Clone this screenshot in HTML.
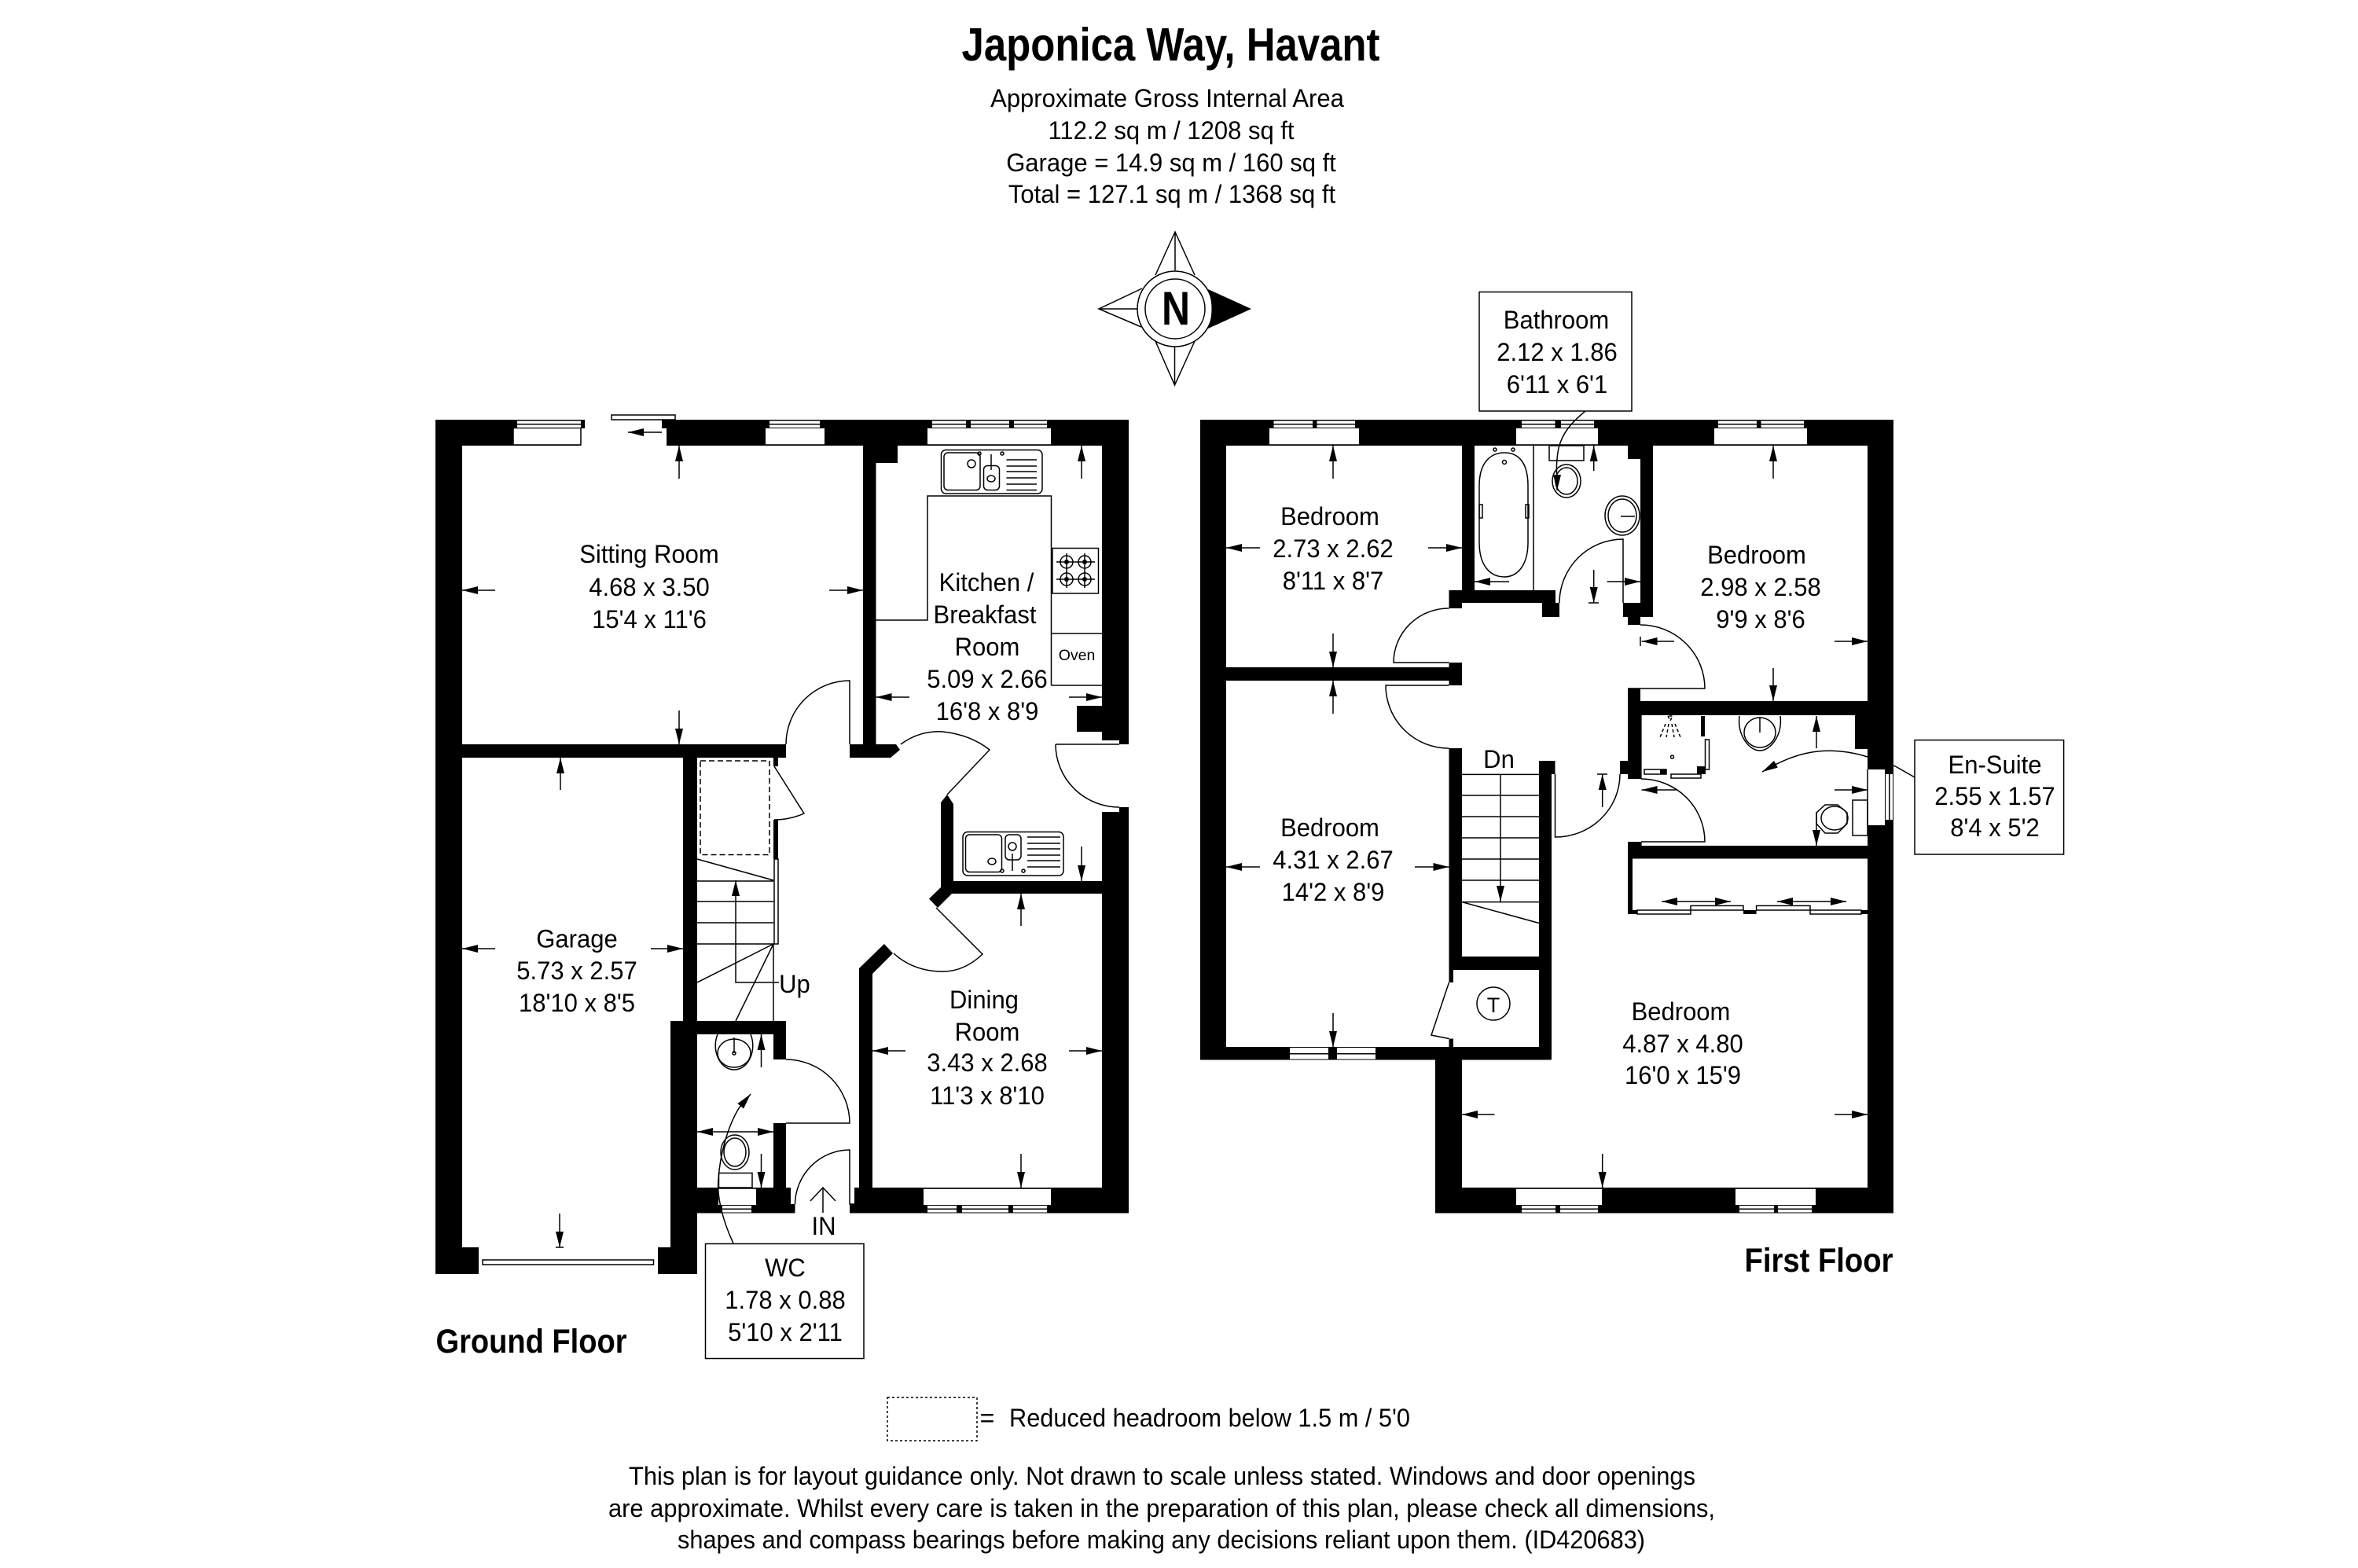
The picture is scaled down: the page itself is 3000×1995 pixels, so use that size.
<!DOCTYPE html>
<html><head><meta charset="utf-8"><title>Japonica Way, Havant</title>
<style>
html,body{margin:0;padding:0;background:#fff}
svg{display:block}
text{font-family:"Liberation Sans",Arial,sans-serif;fill:#000;text-anchor:middle}
.t{font-size:32px;transform-box:fill-box;transform-origin:50% 50%;transform:scaleX(.969)}
.f{font-size:32px}
.b{font-weight:bold}
.l{fill:none;stroke:#000;stroke-width:1.5}
.w{fill:#fff;stroke:none}
.r{fill:#fff;stroke:#000;stroke-width:1.5}
.a{fill:none;stroke:#000;stroke-width:1.5;marker-end:url(#h)}
.d{fill:none;stroke:#000;stroke-width:1.5;marker-end:url(#h);marker-start:url(#s)}
</style></head><body>
<svg xmlns="http://www.w3.org/2000/svg" width="3000" height="1995" viewBox="0 0 3000 1995">
<defs>
<marker id="h" markerUnits="userSpaceOnUse" markerWidth="20" markerHeight="10" refX="20" refY="5" orient="auto"><path d="M0 0L20 5L0 10z"/></marker>
<marker id="s" markerUnits="userSpaceOnUse" markerWidth="20" markerHeight="10" refX="0" refY="5" orient="auto"><path d="M20 0L0 5L20 10z"/></marker>
</defs>
<rect width="3000" height="1995" fill="#fff"/>

<!-- header -->
<text x="1489.5" y="77" class="b" font-size="59" textLength="532" lengthAdjust="spacingAndGlyphs">Japonica Way, Havant</text>
<text x="1485" y="136" class="t">Approximate Gross Internal Area</text>
<text x="1490" y="177" class="t">112.2 sq m / 1208 sq ft</text>
<text x="1490" y="218" class="t">Garage = 14.9 sq m / 160 sq ft</text>
<text x="1491" y="258" class="t">Total = 127.1 sq m / 1368 sq ft</text>

<!-- compass -->
<g>
<path class="l" d="M1470 350L1495 295L1520 350M1495 295V344M1453 367L1398 393L1452 416M1398 393H1447M1470 434L1494.5 490L1520 434M1494.5 490V441"/>
<path d="M1537 368L1592 393L1537 418Q1546 393 1537 368z"/>
<circle class="l" cx="1495" cy="393" r="48"/>
<circle class="l" cx="1495" cy="393" r="38"/>
<text x="1496" y="413" class="b" font-size="60" textLength="36" lengthAdjust="spacingAndGlyphs">N</text>
</g>

<!-- GROUND FLOOR WALLS -->
<g fill="#000">
<rect x="554" y="534" width="882" height="33"/>
<rect x="554" y="534" width="34" height="1087"/>
<rect x="554" y="1587" width="55" height="34"/>
<rect x="837" y="1587" width="50" height="34"/>
<rect x="853" y="1299" width="34" height="322"/>
<rect x="869" y="947" width="18" height="352"/>
<rect x="588" y="947" width="412" height="17"/>
<rect x="1098" y="567" width="16.5" height="380"/>
<rect x="1098" y="567" width="44" height="22"/>
<polygon points="1081,947 1140,947 1145,954 1133,964 1081,964"/>
<polygon points="1402,567 1436,567 1436,947 1424,947 1424,942 1402,942 1402,931 1370,931 1370,898 1402,898"/>
<polygon points="1424,1027 1436,1027 1436,1543.5 1402,1543.5 1402,1033 1424,1033"/>
<rect x="1197" y="1121" width="205" height="16"/>
<polygon points="1205,1011 1213,1023 1213,1137 1197,1137 1197,1021"/>
<polygon points="1197,1129 1211,1137 1193,1155 1182,1143.5"/>
<polygon points="1093,1232 1125,1201 1136,1213 1110,1239 1110,1511 1093,1511"/>
<polygon points="1087,1511 1436,1511 1436,1543.5 1081,1543.5 1081,1532 1087,1532"/>
<rect x="853" y="1299" width="147" height="17"/>
<rect x="984" y="1316" width="16" height="32"/>
<rect x="984" y="1429" width="16" height="82"/>
<polygon points="887,1511 1006,1511 1006,1532 1011.5,1532 1011.5,1543.5 887,1543.5"/>
<rect x="984" y="964" width="6" height="11"/>
<rect x="984" y="1043" width="6" height="50"/>
</g>
<!-- ground windows / openings -->
<rect class="w" x="739" y="545" width="109" height="22"/>
<rect class="w" x="744" y="534" width="98" height="11"/>
<rect class="r" x="778" y="528" width="81" height="6"/>
<rect class="r" x="653" y="544.5" width="86" height="21.5"/>
<g class="w">
<rect x="658" y="535.5" width="81" height="3.5"/><rect x="658" y="540.5" width="81" height="3.5"/>
<rect x="974" y="545" width="75" height="21"/>
<rect x="979" y="535.5" width="64" height="3.5"/><rect x="979" y="540.5" width="64" height="3.5"/>
<rect x="1180" y="545" width="157" height="21"/>
<rect x="1186" y="535.5" width="43" height="3.5"/><rect x="1186" y="540.5" width="43" height="3.5"/>
<rect x="1235" y="535.5" width="49" height="3.5"/><rect x="1235" y="540.5" width="49" height="3.5"/>
<rect x="1290" y="535.5" width="42" height="3.5"/><rect x="1290" y="540.5" width="42" height="3.5"/>
<rect x="914" y="1512" width="48" height="21"/>
<rect x="919" y="1534" width="37" height="3.5"/><rect x="919" y="1539" width="37" height="3.5"/>
<rect x="1175" y="1512" width="162" height="21"/>
<rect x="1180" y="1534" width="37" height="3.5"/><rect x="1180" y="1539" width="37" height="3.5"/>
<rect x="1224" y="1534" width="59" height="3.5"/><rect x="1224" y="1539" width="59" height="3.5"/>
<rect x="1289" y="1534" width="43" height="3.5"/><rect x="1289" y="1539" width="43" height="3.5"/>
</g>
<path class="l" d="M974 566H1049M1180 566H1337M1175 1512H1337M914 1512H962"/>
<!-- garage door -->
<rect class="r" x="614" y="1603" width="217.5" height="6"/>

<!-- ground doors -->
<path class="l" d="M1000 947A81 81 0 0 1 1081 866V947"/>
<path class="l" d="M1146 947A80 80 0 0 1 1200 931Q1235 935 1259 954L1205 1011"/>
<path class="l" d="M1343 947H1424M1343 947A81 80 0 0 0 1424 1027"/>
<path class="l" d="M1191 1155L1250 1214Q1225 1238 1194 1236Q1160 1234 1137 1213"/>
<path class="l" d="M1000 1348A81 81 0 0 1 1081 1429H1000"/>
<path class="l" d="M1011.5 1532A70 70 0 0 1 1081 1463V1532H1087"/>
<path class="l" d="M985 975L1023 1035Q1005 1043 985 1043"/>
<!-- cupboard & stairs -->
<rect x="891" y="968" width="88" height="119.5" fill="none" stroke="#000" stroke-width="1.5" stroke-dasharray="7 4"/>
<rect class="r" x="985" y="1093" width="5" height="108"/>
<path class="l" d="M887 1093L984 1120M887 1121H984M887 1147H984M887 1174H984M887 1201H984M887 1250L984 1201L936 1299M984 1201V1299"/>
<path class="a" d="M991 1250H936V1120"/>
<text x="1011" y="1263" class="t">Up</text>

<!-- kitchen fittings -->
<path class="l" d="M1114.5 789H1180V631H1337.5V872M1337.5 806H1402M1337.5 872H1402"/>
<rect class="r" x="1339" y="697.5" width="58.5" height="57.5"/>
<g class="l">
<circle cx="1357" cy="715" r="8"/><circle cx="1380" cy="715" r="8"/><circle cx="1357" cy="737" r="8"/><circle cx="1380" cy="737" r="8"/>
<path d="M1344 715H1370M1367 715H1393M1344 737H1370M1367 737H1393M1357 704V726M1380 704V726M1357 726V748M1380 726V748"/>
</g>
<g fill="#000"><circle cx="1357" cy="715" r="3"/><circle cx="1380" cy="715" r="3"/><circle cx="1357" cy="737" r="3"/><circle cx="1380" cy="737" r="3"/></g>
<text x="1370" y="840" font-size="19.5">Oven</text>
<g class="l">
<rect x="1197.5" y="572.5" width="128.5" height="55.5" rx="6"/>
<rect x="1201" y="576" width="46" height="47.5" rx="5"/>
<rect x="1251.5" y="592.5" width="20" height="31" rx="5"/>
<ellipse cx="1236" cy="590" rx="5" ry="5"/>
<ellipse cx="1261" cy="609" rx="5" ry="4"/>
<path d="M1261 578V598M1280.5 585H1319M1280.5 593H1319M1280.5 600H1319M1280.5 608H1319M1280.5 616H1319M1280.5 623.5H1319"/>
<circle cx="1246" cy="577" r="2"/><circle cx="1275" cy="577" r="2"/>
<rect x="1225" y="1058.5" width="128" height="55.5" rx="6"/>
<rect x="1228.5" y="1062" width="46" height="47.5" rx="5"/>
<rect x="1279" y="1062" width="20" height="32" rx="5"/>
<ellipse cx="1262" cy="1096" rx="5" ry="4"/>
<ellipse cx="1288" cy="1077" rx="5" ry="5"/>
<path d="M1288 1086V1108M1307 1065H1349M1307 1073H1349M1307 1080H1349M1307 1088H1349M1307 1095H1349M1307 1103H1349"/>
<circle cx="1275" cy="1108" r="2"/><circle cx="1302" cy="1108" r="2"/>
</g>
<!-- wc fittings -->
<g class="l">
<path d="M913 1316C905 1335 915 1361 934 1361C953 1361 963 1335 955 1316"/>
<ellipse cx="934" cy="1340" rx="21" ry="18"/>
<path d="M934 1320V1340"/>
<circle cx="934" cy="1340" r="2"/>
<ellipse cx="935" cy="1466" rx="18" ry="22"/>
<ellipse cx="935" cy="1466" rx="14" ry="18"/>
<rect x="914.5" y="1492.5" width="42.5" height="18.5"/>
</g>
<path class="l" d="M933 1582C918 1550 912 1520 914 1500C916 1470 925 1435 940 1410"/>
<path class="a" d="M940 1410L955 1392"/>
<rect class="r" x="897.5" y="1582.5" width="201.5" height="146"/>
<text x="999" y="1624" class="t">WC</text>
<text x="999" y="1665" class="t">1.78 x 0.88</text>
<text x="999" y="1706" class="t">5'10 x 2'11</text>
<!-- IN -->
<path class="l" d="M1047 1543V1511M1031 1528L1047 1511L1063 1528"/>
<text x="1048" y="1571" class="t">IN</text>

<!-- ground arrows -->
<g>
<path class="a" d="M842 550H799"/>
<path class="a" d="M630 751H588"/><path class="a" d="M1055 751H1098"/><path class="a" d="M864 609V567"/><path class="a" d="M864 904V947"/>
<path class="a" d="M1157 887H1114.5"/><path class="a" d="M1360 887H1402"/><path class="a" d="M1376 609V567"/><path class="a" d="M1376 1077V1121"/>
<path class="a" d="M713 1005V964"/><path class="a" d="M630 1207H588"/><path class="a" d="M828 1207H869"/><path class="a" d="M712 1544V1587"/><path class="l" d="M707 1587H717"/>
<path class="a" d="M1299 1178V1137"/><path class="a" d="M1152 1337H1110"/><path class="a" d="M1360 1337H1402"/><path class="a" d="M1299 1468V1511"/>
<path class="a" d="M968.5 1358V1316"/><path class="a" d="M968.5 1468V1511"/><path class="d" d="M887 1440H984"/>
</g>

<!-- ground labels -->
<text x="826" y="716" class="t">Sitting Room</text><text x="826" y="758" class="t">4.68 x 3.50</text><text x="826" y="799" class="t">15'4 x 11'6</text>
<text x="1255" y="752" class="t">Kitchen /</text><text x="1253" y="793" class="t">Breakfast</text><text x="1256" y="834" class="t">Room</text><text x="1256" y="875" class="t">5.09 x 2.66</text><text x="1256" y="916" class="t">16'8 x 8'9</text>
<text x="734" y="1205.5" class="t">Garage</text><text x="734" y="1246" class="t">5.73 x 2.57</text><text x="734" y="1287" class="t">18'10 x 8'5</text>
<text x="1252" y="1283" class="t">Dining</text><text x="1256" y="1324" class="t">Room</text><text x="1256" y="1363" class="t">3.43 x 2.68</text><text x="1256" y="1405" class="t">11'3 x 8'10</text>
<text x="676" y="1721" class="b" font-size="43" textLength="243" lengthAdjust="spacingAndGlyphs">Ground Floor</text>

<!-- FIRST FLOOR WALLS -->
<g fill="#000">
<rect x="1527" y="534" width="882" height="33"/>
<rect x="1527" y="534" width="33" height="814"/>
<rect x="1527" y="1332" width="446.5" height="16.5"/>
<rect x="1860" y="567" width="16" height="184"/>
<rect x="1843.5" y="751" width="135.5" height="16"/>
<rect x="1843.5" y="751" width="16.5" height="23"/>
<rect x="1962" y="767" width="22" height="18"/>
<rect x="2087" y="567" width="16" height="218"/>
<rect x="2071" y="567" width="32" height="17"/>
<rect x="2065" y="767" width="38" height="18"/>
<rect x="2071" y="785" width="16" height="10"/>
<rect x="2071" y="876" width="16" height="20"/>
<rect x="2376" y="567" width="33" height="976.5"/>
<rect x="2071" y="892" width="338" height="18"/>
<rect x="2360" y="892" width="49" height="61"/>
<rect x="2071" y="892" width="17.6" height="99"/>
<rect x="2061" y="968" width="27" height="17"/>
<rect x="2071" y="1071" width="17.6" height="21.5"/>
<rect x="2071" y="1076" width="305" height="16.5"/>
<rect x="2071" y="1092" width="6" height="71"/>
<rect x="2071" y="1158" width="12" height="5"/>
<rect x="2218" y="1158" width="16.6" height="5"/>
<rect x="2368" y="1158" width="8" height="5"/>
<rect x="1560" y="849" width="283.5" height="17"/>
<rect x="1843.5" y="843" width="16.5" height="29"/>
<rect x="1843.5" y="952" width="16.5" height="270"/>
<rect x="1958" y="985" width="16" height="363"/>
<rect x="1958" y="968" width="20.5" height="17"/>
<rect x="1843.5" y="1217" width="130" height="17"/>
<rect x="1843.5" y="1234" width="5.5" height="16"/>
<rect x="1843.5" y="1321.5" width="5.5" height="11"/>
<rect x="1826" y="1348" width="34" height="195.5"/>
<rect x="1826" y="1511" width="583" height="32.5"/>
</g>
<!-- first windows -->
<g class="w">
<rect x="1615" y="545" width="114" height="21"/>
<rect x="1620.5" y="535.5" width="49.5" height="3.5"/><rect x="1620.5" y="540.5" width="49.5" height="3.5"/>
<rect x="1675.5" y="535.5" width="48.5" height="3.5"/><rect x="1675.5" y="540.5" width="48.5" height="3.5"/>
<rect x="1929" y="545" width="104" height="21"/>
<rect x="1936" y="535.5" width="42.5" height="3.5"/><rect x="1936" y="540.5" width="42.5" height="3.5"/>
<rect x="1986" y="535.5" width="42" height="3.5"/><rect x="1986" y="540.5" width="42" height="3.5"/>
<rect x="2181" y="545" width="118" height="21"/>
<rect x="2186" y="535.5" width="49" height="3.5"/><rect x="2186" y="540.5" width="49" height="3.5"/>
<rect x="2240.5" y="535.5" width="54.5" height="3.5"/><rect x="2240.5" y="540.5" width="54.5" height="3.5"/>
<rect x="1641" y="1333" width="49" height="7"/><rect x="1641" y="1341.5" width="49" height="6"/>
<rect x="1701" y="1333" width="49" height="7"/><rect x="1701" y="1341.5" width="49" height="6"/>
<rect x="1929" y="1512" width="109" height="21"/>
<rect x="1936" y="1534" width="43" height="3.5"/><rect x="1936" y="1539" width="43" height="3.5"/>
<rect x="1985" y="1534" width="48" height="3.5"/><rect x="1985" y="1539" width="48" height="3.5"/>
<rect x="2208" y="1512" width="102" height="21"/>
<rect x="2213" y="1534" width="44" height="3.5"/><rect x="2213" y="1539" width="44" height="3.5"/>
<rect x="2262" y="1534" width="43" height="3.5"/><rect x="2262" y="1539" width="43" height="3.5"/>
<rect x="2376" y="979" width="22" height="71"/>
<rect x="2399" y="985" width="4" height="58"/><rect x="2404.5" y="985" width="3.5" height="58"/>
</g>
<path class="l" d="M1615 566H1729M1929 566H2033M2181 566H2299M1929 1512H2038M2208 1512H2310M2376 979V1050"/>
<!-- first doors -->
<path class="l" d="M2065 767V686A81 81 0 0 0 1984 767"/>
<path class="l" d="M1843.5 774A70 69 0 0 0 1773 843H1843.5"/>
<path class="l" d="M1843.5 872H1763A80 80 0 0 0 1843.5 952"/>
<path class="l" d="M2087 795A82 81 0 0 1 2169 876H2071"/>
<path class="l" d="M2088 991A81 80 0 0 1 2169 1071H2088"/>
<path class="l" d="M1978.5 985V1065A82 80 0 0 0 2061 985"/>
<path class="l" d="M1843.5 1250L1821 1317L1843.5 1321.5"/>
<ellipse class="l" cx="1900" cy="1277" rx="21" ry="21"/>
<text x="1900" y="1288" font-size="27">T</text>
<!-- stairs -->
<path class="l" d="M1860 985.4H1958M1860 1012H1958M1860 1039H1958M1860 1066H1958M1860 1093H1958M1860 1120H1958M1860 1147.6H1958M1860 1147.6L1958 1174.5"/>
<path class="a" d="M1909 985V1147"/>
<text x="1907" y="977" class="t">Dn</text>
<!-- wardrobe -->
<g class="r">
<rect x="2083" y="1158" width="68" height="5"/><rect x="2151" y="1152.4" width="67" height="5.6"/>
<rect x="2234.6" y="1152.4" width="68.4" height="5.6"/><rect x="2303" y="1158" width="65" height="5"/>
</g>
<path class="d" d="M2114 1147H2202"/><path class="d" d="M2261 1147H2349"/>

<!-- bathroom fittings -->
<g class="l">
<path d="M1882 618C1882 590 1895 576 1914 576C1933 576 1944 590 1944 618V690C1944 720 1930 734 1914 734C1896 734 1882 720 1882 690z"/>
<circle cx="1902" cy="572" r="2"/><circle cx="1925" cy="572" r="2"/><circle cx="1914" cy="588" r="2.5"/>
<rect x="1882" y="642" width="4" height="17"/><rect x="1941" y="642" width="4" height="17"/>
<path d="M1951 567V751"/>
<rect x="1971" y="567" width="44" height="19"/>
<ellipse cx="1993" cy="612" rx="18" ry="21"/><ellipse cx="1993" cy="612" rx="14" ry="17"/>
<ellipse cx="2064" cy="656" rx="22" ry="25"/><ellipse cx="2064" cy="656" rx="18" ry="21"/>
<path d="M2062 657H2080"/>
</g>
<path class="l" d="M2017 523C2000 537 1988 550 1983 570C1980 585 1980 600 1981 606"/>
<path class="a" d="M1981 604L1981 624"/>
<rect class="r" x="1882" y="371.5" width="194" height="151.5"/>
<text x="1980" y="418" class="t">Bathroom</text><text x="1981" y="459" class="t">2.12 x 1.86</text><text x="1981" y="500" class="t">6'11 x 6'1</text>
<!-- ensuite fittings -->
<g fill="#000"><rect x="2164" y="911" width="5" height="26"/><rect x="2159" y="975" width="11" height="10"/><rect x="2112" y="979" width="8" height="6"/></g>
<g class="l">
<rect x="2169.5" y="941" width="5" height="38"/>
<rect x="2126" y="985" width="38" height="5"/>
<rect x="2092" y="979" width="28" height="6"/>
<path d="M2122 911L2125 917L2128 911zM2119 921L2112 938M2123 921L2120 938M2127 921L2130 938M2131 921L2138 938" stroke-dasharray="4 3"/>
<circle cx="2127.5" cy="963" r="2"/>
<path d="M2213 911C2210 935 2225 955 2239 955C2253 955 2268 935 2265 911"/>
<ellipse cx="2239" cy="932" rx="20" ry="19"/>
<path d="M2239 912V932"/>
<path d="M2322 1024L2338 1024L2350 1034V1048L2338 1060H2322L2311 1048V1034z"/>
<ellipse cx="2334" cy="1041" rx="17" ry="15"/>
<rect x="2357" y="1018" width="19" height="45"/>
</g>
<path class="l" d="M2436 989L2411.5 975L2376 963C2350 955 2325 953 2300 958C2280 962 2265 970 2254 975"/>
<path class="a" d="M2260 972L2242 982"/>
<rect class="r" x="2436" y="941.6" width="189.6" height="145.4"/>
<text x="2538" y="984" class="t">En-Suite</text><text x="2538" y="1024" class="t">2.55 x 1.57</text><text x="2538" y="1064" class="t">8'4 x 5'2</text>

<!-- first arrows -->
<g>
<path class="a" d="M1696 609V567"/><path class="a" d="M1603 697H1560"/><path class="a" d="M1817 697H1860"/><path class="a" d="M1696 806V849"/><path class="a" d="M1696 908V866"/>
<path class="a" d="M2256 609V567"/><path class="a" d="M2130 816H2088.6"/><path class="l" d="M2087 810V822"/><path class="a" d="M2334 816H2376"/><path class="a" d="M2256 850V892"/>
<path class="a" d="M2027.7 599V567"/><path class="a" d="M2027.7 725V767"/><path class="l" d="M2021 767H2034"/><path class="a" d="M1920 740H1876"/><path class="a" d="M2044.6 740H2087"/>
<path class="a" d="M2311 952V911"/><path class="a" d="M2311 1034V1076"/><path class="a" d="M2132.6 1005H2088.6"/><path class="a" d="M2334 1005H2376"/>
<path class="a" d="M1603 1103H1560"/><path class="a" d="M1800 1103H1843.5"/><path class="a" d="M1696 1289V1332"/>
<path class="a" d="M1901.5 1418H1860"/><path class="a" d="M2334 1418H2376"/><path class="a" d="M2038.7 1468V1511"/>
<path class="a" d="M2038.7 1027V985"/><path class="l" d="M2032 985H2045"/>
</g>
<!-- first labels -->
<text x="1692" y="668" class="t">Bedroom</text><text x="1696" y="709" class="t">2.73 x 2.62</text><text x="1696" y="750" class="t">8'11 x 8'7</text>
<text x="2235" y="717" class="t">Bedroom</text><text x="2240" y="758" class="t">2.98 x 2.58</text><text x="2240" y="799" class="t">9'9 x 8'6</text>
<text x="1692" y="1064" class="t">Bedroom</text><text x="1696" y="1105" class="t">4.31 x 2.67</text><text x="1696" y="1146" class="t">14'2 x 8'9</text>
<text x="2138.5" y="1298" class="t">Bedroom</text><text x="2141" y="1339" class="t">4.87 x 4.80</text><text x="2141" y="1379" class="t">16'0 x 15'9</text>
<text x="2314" y="1618" class="b" font-size="43" textLength="189" lengthAdjust="spacingAndGlyphs">First Floor</text>

<!-- legend -->
<rect x="1129" y="1778" width="114" height="55" fill="none" stroke="#000" stroke-width="1.5" stroke-dasharray="3 3"/>
<text x="1256" y="1815" class="f">=</text>
<text x="1539" y="1815" class="f" textLength="510" lengthAdjust="spacingAndGlyphs">Reduced headroom below 1.5 m / 5'0</text>
<text x="1478.5" y="1889" class="f" textLength="1357" lengthAdjust="spacingAndGlyphs">This plan is for layout guidance only. Not drawn to scale unless stated. Windows and door openings</text>
<text x="1478" y="1930" class="f" textLength="1408" lengthAdjust="spacingAndGlyphs">are approximate. Whilst every care is taken in the preparation of this plan, please check all dimensions,</text>
<text x="1477.5" y="1970" class="f" textLength="1231" lengthAdjust="spacingAndGlyphs">shapes and compass bearings before making any decisions reliant upon them. (ID420683)</text>
</svg>
</body></html>
